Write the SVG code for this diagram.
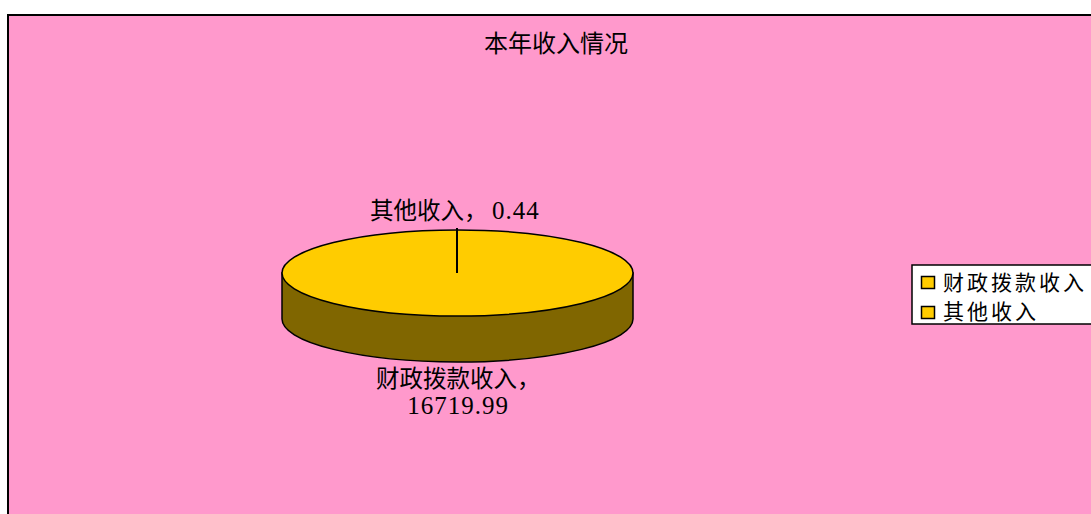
<svg xmlns="http://www.w3.org/2000/svg" width="1091" height="514" viewBox="0 0 1091 514">
<style>
.t{font-family:"Noto Sans CJK SC",sans-serif;font-size:23.5px;fill:#000}
.n{font-family:"Liberation Serif",serif;font-size:25px;letter-spacing:1px}
.title{font-family:"Noto Sans CJK SC",sans-serif;font-size:24px;fill:#000}
.lg{font-family:"Noto Sans CJK SC",sans-serif;font-size:21px;letter-spacing:3px;fill:#000}
.pie{stroke:#000;stroke-width:1.5}
.sw{fill:#FFCC00;stroke:#000;stroke-width:1.5}
</style>
<rect x="0" y="0" width="1091" height="514" fill="#fff"/>
<rect id="chartArea" x="8" y="15" width="1092" height="510" fill="#FF99CC" stroke="#000" stroke-width="2"/>
<g id="title"><text class="title" x="556" y="52" text-anchor="middle">本年收入情况</text></g>
<g id="pie">
<path class="pie" fill="#806600" d="M282,273 L282,319 A175.5,43 0 0 0 633,319 L633,273 Z"/>
<ellipse class="pie" cx="457.5" cy="273" rx="175.5" ry="43" fill="#FFCC00"/>
</g>
<g id="connectors">
<line x1="457" y1="228" x2="457" y2="273" stroke="#000" stroke-width="2"/>
</g>
<g id="label-other"><text class="t" x="370" y="219">其他收入，<tspan class="n" x="492" letter-spacing="3px">0.44</tspan></text></g>
<g id="label-fiscal">
<text class="t" x="376" y="387">财政拨款收入，</text>
<text class="t n" x="458" y="414" text-anchor="middle">16719.99</text>
</g>
<g id="legend">
<rect x="912" y="265" width="190" height="59" fill="#fff" stroke="#000" stroke-width="1.5"/>
<rect class="sw" x="921.5" y="276.5" width="13" height="12"/>
<text class="lg" x="943" y="290">财政拨款收入</text>
<rect class="sw" x="921.5" y="306.5" width="13" height="12"/>
<text class="lg" x="943" y="319">其他收入</text>
</g>
</svg>
